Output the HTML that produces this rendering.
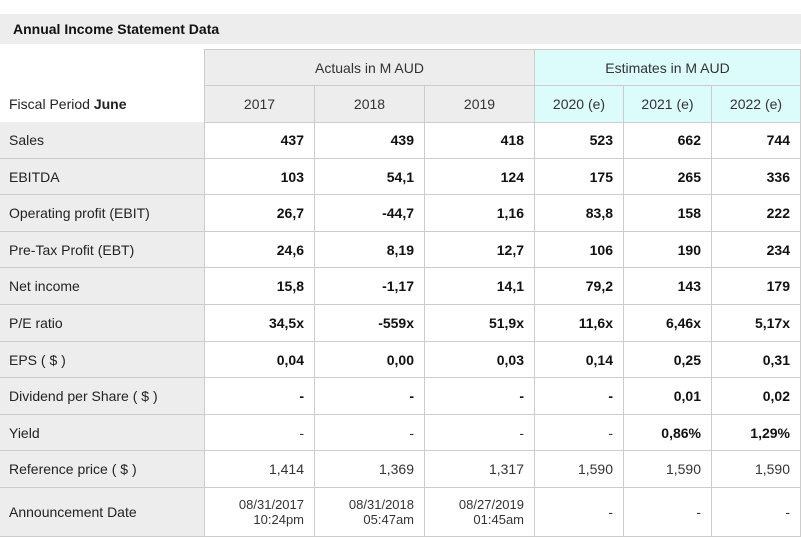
<!DOCTYPE html>
<html><head><meta charset="utf-8"><style>
body{margin:0;width:801px;height:537px;background:#fff;font-family:"Liberation Sans",Arial,sans-serif;color:#222;overflow:hidden;position:relative}
.a{position:absolute;box-sizing:border-box}
#title{left:0;top:14px;width:801px;height:30px;background:#ededed;font-weight:bold;font-size:14px;line-height:30px;padding-left:13px;color:#111}
.c{border-right:1px solid #ccc;border-bottom:1px solid #ccc;font-size:14px;display:flex;align-items:center}
.lab{background:#ededed;padding-left:9px;color:#222}
.v{justify-content:flex-end;padding-right:10px;font-weight:bold;color:#111}
.n{font-weight:normal;color:#333}
.h{justify-content:center;background:#ededed;color:#333}
.e{background:#dcfbfb}
.d{font-size:13px;line-height:15px;text-align:right}
</style></head><body>
<div class="a" id="title">Annual Income Statement Data</div>
<div id="tbl"></div>
<script>
const cols=[205,315,425,535,624,712,800];
const years=['2017','2018','2019','2020 (e)','2021 (e)','2022 (e)'];
const rows=[
['Sales',['437','439','418','523','662','744'],'b'],
['EBITDA',['103','54,1','124','175','265','336'],'b'],
['Operating profit (EBIT)',['26,7','-44,7','1,16','83,8','158','222'],'b'],
['Pre-Tax Profit (EBT)',['24,6','8,19','12,7','106','190','234'],'b'],
['Net income',['15,8','-1,17','14,1','79,2','143','179'],'b'],
['P/E ratio',['34,5x','-559x','51,9x','11,6x','6,46x','5,17x'],'b'],
['EPS ( $ )',['0,04','0,00','0,03','0,14','0,25','0,31'],'b'],
['Dividend per Share ( $ )',['-','-','-','-','0,01','0,02'],'b'],
['Yield',['-','-','-','-','0,86%','1,29%'],'y'],
['Reference price ( $ )',['1,414','1,369','1,317','1,590','1,590','1,590'],'n'],
['Announcement Date',['08/31/2017<br>10:24pm','08/31/2018<br>05:47am','08/27/2019<br>01:45am','-','-','-'],'n']
];
const T=document.getElementById('tbl');
function cell(x,y,w,h,cls,html,name){const d=document.createElement('div');d.className='a c '+cls;d.style.left=x+'px';d.style.top=y+'px';d.style.width=w+'px';d.style.height=h+'px';d.innerHTML=html;


T.appendChild(d);return d;}
// header
let g1=cell(205,49,330,37,'h','Actuals in M AUD','actuals-header');g1.style.borderLeft='1px solid #ccc';g1.style.borderTop='1px solid #ccc';g1.style.left='204px';g1.style.width='331px';
let g2=cell(535,49,266,37,'h e','Estimates in M AUD','estimates-header');g2.style.borderTop='1px solid #ccc';
let fp=cell(0,86,205,37,'','Fiscal Period&nbsp;<b>June</b>','fiscal-period-label');fp.style.paddingLeft='9px';fp.style.color='#222';
for(let i=0;i<6;i++){let c=cell(cols[i],86,cols[i+1]-cols[i]+(i==5?1:0),37,'h'+(i>=3?' e':''),years[i],'year-header-'+years[i].replace(/[^0-9]/g,''));}
const top0=122,rh=36.6;
rows.forEach((r,ri)=>{
 const y=Math.round(top0+ri*rh), h=ri==rows.length-1?537-y:Math.round(top0+(ri+1)*rh)-y;
 cell(0,y,205,h,'lab',r[0],'row-label-'+r[0].toLowerCase().replace(/[^a-z]+/g,'-').replace(/-$/,''));
 r[1].forEach((v,i)=>{
  let cls='v';
  if(r[2]=='n')cls+=' n';
  if(r[2]=='y'&&i<4)cls+=' n';
  if(v.includes('<br>'))cls+=' d';
  cell(cols[i],y,cols[i+1]-cols[i]+(i==5?1:0),h,cls,v,'value-r'+ri+'-c'+i);
 });
});
</script>
</body></html>
